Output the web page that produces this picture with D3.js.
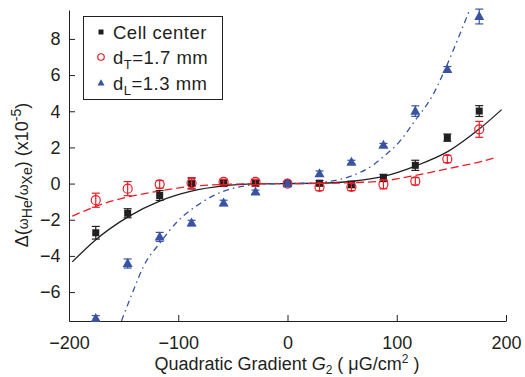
<!DOCTYPE html>
<html>
<head>
<meta charset="utf-8">
<script src="https://cdn.jsdelivr.net/npm/d3@7"></script>
<style>
	body { margin: 0; background: #fff; }
	text { font-family: "Liberation Sans", Arial, sans-serif; fill: #231f20; }
</style>
</head>
<body>
<div id="main-container"></div>
<script>

// measured gradients (uG/cm^2)
var gradients = [-175.5, -146.3, -117, -87.8, -58.5, -29.3, 0, 29.3, 58.5, 87.8, 117, 146.3, 175.5];

var centerValues = [-2.72, -1.64, -0.66, 0.0, 0.02, 0.02, 0, 0.02, -0.05, 0.31, 1.01, 2.54, 4.01];
var centerErrors = [0.35, 0.25, 0.27, 0.3, 0.18, 0.15, 0.1, 0.15, 0.18, 0.2, 0.28, 0.2, 0.3];

var transValues = [-0.92, -0.28, -0.04, 0.03, 0.09, 0.09, 0, -0.19, -0.19, -0.04, 0.13, 1.36, 3.0];
var transErrors = [0.39, 0.39, 0.21, 0.3, 0.15, 0.15, 0.1, 0.2, 0.2, 0.25, 0.2, 0.2, 0.44];

var longValues = [-7.45, -4.42, -2.95, -2.18, -1.07, -0.46, 0, 0.55, 1.19, 2.12, 4.01, 6.32, 9.24];
var longErrors = [0.15, 0.25, 0.25, 0.15, 0.15, 0.1, 0.1, 0.15, 0.1, 0.1, 0.29, 0.15, 0.41];

// fitted curves
var centerFitX = [-197, -176, -146, -117, -88, -59, -29, 0, 29, 59, 88, 117, 147, 176, 196];
var centerFitY = [-4.33, -3.13, -1.84, -0.97, -0.42, -0.13, -0.02, 0, 0.02, 0.13, 0.4, 0.97, 1.78, 3.04, 4.09];

var transFitX = [-197, -175, -146, -117, -88, -59, -29, 0, 29, 59, 88, 117, 147, 176, 192];
var transFitY = [-1.8, -1.25, -0.74, -0.41, -0.15, -0.05, -0.01, 0, 0.01, 0.05, 0.15, 0.45, 0.83, 1.2, 1.47];

var longFitX = [-152, -141, -132, -117, -100, -80, -59, -40, -20, 0, 20, 40, 59, 80, 88, 100, 117, 133, 147, 158, 166];
var longFitY = [-7.6, -5.9, -4.6, -3.3, -2.05, -1.1, -0.43, -0.14, -0.02, 0, 0.02, 0.14, 0.43, 1.1, 1.5, 2.15, 3.5, 4.9, 6.7, 8.3, 9.5];

var xTicks = [-200, -100, 0, 100, 200];
var yTicks = [-6, -4, -2, 0, 2, 4, 6, 8];

var BLACK = "#231f20", RED = "#ed1c24", BLUE = "#3953a4";


drawChart();


function drawChart() {
	var width = 525, height = 377;
	var svg = d3.select("#main-container").append("svg")
		.attr("width", width)
		.attr("height", height);

	var x = d3.scaleLinear().domain([-200, 200]).range([69, 506]);
	var y = d3.scaleLinear().domain([-7.6, 9.6]).range([321, 10]);

	svg.append("clipPath").attr("id", "plotClip")
		.append("rect")
		.attr("x", x(-200)).attr("y", y(9.6))
		.attr("width", x(200) - x(-200)).attr("height", y(-7.6) - y(9.6));

	// axes, MATLAB style ticks pointing inward
	var xAxis = svg.append("g")
		.attr("transform", "translate(0," + y(-7.6) + ")")
		.call(d3.axisBottom(x).tickValues(xTicks).tickSizeInner(-6).tickSizeOuter(0).tickPadding(12));
	var yAxis = svg.append("g")
		.attr("transform", "translate(" + x(-200) + ",0)")
		.call(d3.axisLeft(y).tickValues(yTicks).tickSizeInner(-6).tickSizeOuter(0).tickPadding(12));

	[xAxis, yAxis].forEach(function(a) {
		a.select(".domain").attr("stroke", BLACK).attr("stroke-width", 1);
		a.selectAll(".tick line").attr("stroke", BLACK);
		a.selectAll(".tick text").attr("font-size", 18).attr("fill", BLACK)
			.style("font-family", "'Liberation Sans', Arial, sans-serif");
	});
	xAxis.selectAll(".tick text").attr("dy", "0.9em");
	yAxis.selectAll(".tick text").attr("dx", "0.2em");

	// fit curves
	var plot = svg.append("g").attr("clip-path", "url(#plotClip)");
	drawFit(plot, centerFitX, centerFitY, BLACK, null, x, y);
	drawFit(plot, transFitX, transFitY, RED, "8,4", x, y);
	drawFit(plot, longFitX, longFitY, BLUE, "6,4,1.5,4", x, y);

	// data with error bars
	drawSeries(svg, centerValues, centerErrors, BLACK, "square", x, y);
	drawSeries(svg, transValues, transErrors, RED, "circle", x, y);
	drawSeries(svg, longValues, longErrors, BLUE, "triangle", x, y);

	drawLegend(svg);

	// x label
	var xl = svg.append("text")
		.attr("x", 287).attr("y", 370)
		.attr("text-anchor", "middle")
		.attr("font-size", 18);
	xl.append("tspan").text("Quadratic Gradient ");
	xl.append("tspan").attr("font-style", "italic").text("G");
	xl.append("tspan").attr("font-size", 12).attr("dy", 4).text("2");
	xl.append("tspan").attr("dy", -4).text(" ( \u03bcG/cm");
	xl.append("tspan").attr("font-size", 12).attr("dy", -7).text("2");
	xl.append("tspan").attr("dy", 7).text(" )");

	// y label
	var yl = svg.append("text")
		.attr("transform", "translate(28,175) rotate(-90)")
		.attr("text-anchor", "middle")
		.attr("font-size", 18);
	yl.append("tspan").text("\u0394(");
	yl.append("tspan").attr("font-size", 14).text("\u03c9");
	yl.append("tspan").attr("font-size", 14).attr("dy", 4).text("He");
	yl.append("tspan").attr("dy", -4).text("/");
	yl.append("tspan").attr("font-size", 14).text("\u03c9");
	yl.append("tspan").attr("font-size", 14).attr("dy", 4).text("Xe");
	yl.append("tspan").attr("dy", -4).text(") (x10");
	yl.append("tspan").attr("font-size", 14).attr("dy", -7).text("-5");
	yl.append("tspan").attr("dy", 7).text(")");
}


function drawFit(g, xs, ys, color, dash, x, y) {
	var pts = xs.map(function(d, i) { return [d, ys[i]]; });
	var line = d3.line()
		.x(function(d) { return x(d[0]); })
		.y(function(d) { return y(d[1]); })
		.curve(d3.curveMonotoneX);
	var p = g.append("path")
		.datum(pts)
		.attr("d", line)
		.attr("fill", "none")
		.attr("stroke", color)
		.attr("stroke-width", 1.3);
	if (dash) p.attr("stroke-dasharray", dash);
}


function drawMarker(g, shape, cx, cy, color, size) {
	if (shape == "square") {
		g.append("rect")
			.attr("x", cx - size / 2).attr("y", cy - size / 2)
			.attr("width", size).attr("height", size)
			.attr("fill", color);
	} else if (shape == "circle") {
		g.append("circle")
			.attr("cx", cx).attr("cy", cy).attr("r", size / 2)
			.attr("fill", "none")
			.attr("stroke", color).attr("stroke-width", 1.2);
	} else {
		var h = size * 0.9;
		g.append("path")
			.attr("d", "M" + cx + "," + (cy - h * 0.6) + "L" + (cx + size / 2) + "," + (cy + h * 0.4) + "L" + (cx - size / 2) + "," + (cy + h * 0.4) + "Z")
			.attr("fill", color);
	}
}


function drawSeries(svg, values, errors, color, shape, x, y) {
	var g = svg.append("g");
	gradients.forEach(function(gv, i) {
		var cx = x(gv), lo = y(values[i] - errors[i]), hi = y(values[i] + errors[i]);
		g.append("line").attr("x1", cx).attr("x2", cx).attr("y1", lo).attr("y2", hi)
			.attr("stroke", color).attr("stroke-width", 1.2);
		[lo, hi].forEach(function(yy) {
			g.append("line").attr("x1", cx - 4).attr("x2", cx + 4).attr("y1", yy).attr("y2", yy)
				.attr("stroke", color).attr("stroke-width", 1.2);
		});
		var size = shape == "square" ? 7 : (shape == "circle" ? 9 : 10);
		drawMarker(g, shape, cx, y(values[i]), color, size);
	});
}


function drawLegend(svg) {
	var lg = svg.append("g");
	lg.append("rect")
		.attr("x", 83.5).attr("y", 16.5)
		.attr("width", 139).attr("height", 83)
		.attr("fill", "#fff")
		.attr("stroke", BLACK).attr("stroke-width", 1);

	var rows = [
		{ shape: "square", color: BLACK, cy: 32, size: 5 },
		{ shape: "circle", color: RED, cy: 57, size: 6.5 },
		{ shape: "triangle", color: BLUE, cy: 83, size: 7 }
	];
	rows.forEach(function(r) {
		drawMarker(lg, r.shape, 101, r.cy, r.color, r.size);
	});

	lg.append("text").attr("x", 113).attr("y", 38.5).attr("font-size", 18.5)
		.attr("letter-spacing", 0.5).text("Cell center");

	var t2 = lg.append("text").attr("x", 113).attr("y", 63.5).attr("font-size", 18.5).attr("letter-spacing", 0.5);
	t2.append("tspan").text("d");
	t2.append("tspan").attr("font-size", 13).attr("dy", 5).text("T");
	t2.append("tspan").attr("dy", -5).text("=1.7 mm");

	var t3 = lg.append("text").attr("x", 113).attr("y", 89.5).attr("font-size", 18.5).attr("letter-spacing", 0.5);
	t3.append("tspan").text("d");
	t3.append("tspan").attr("font-size", 13).attr("dy", 5).text("L");
	t3.append("tspan").attr("dy", -5).text("=1.3 mm");
}
</script>
</body>
</html>
